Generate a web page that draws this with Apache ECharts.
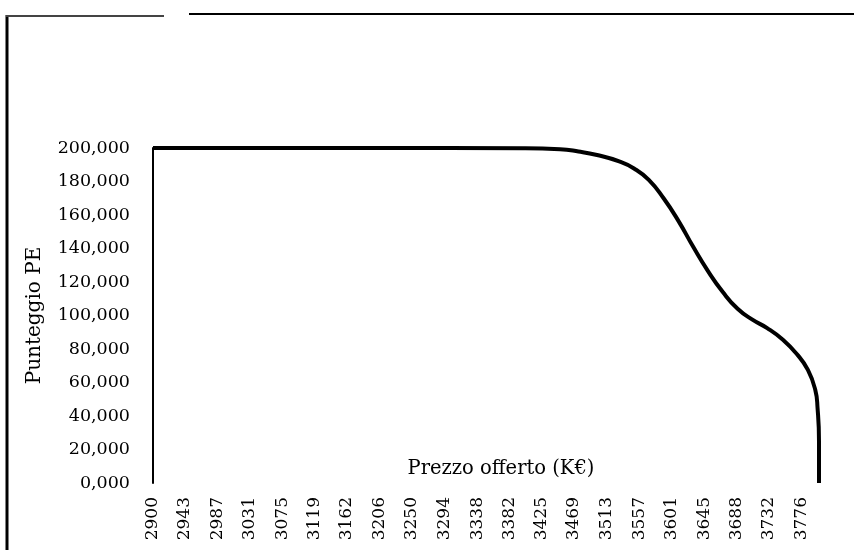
<!DOCTYPE html>
<html>
<head>
<meta charset="utf-8">
<script src="https://cdn.jsdelivr.net/npm/echarts@6/dist/echarts.min.js"></script>
<style>
    html, body { margin: 0; padding: 0; background: #fff; }
    #chart { width: 854px; height: 550px; }
</style>
</head>
<body>
<div id="chart"></div>
<script>

/* prezzo offerto (K€) - etichette asse x */
var tickLabels = ['2900','2943','2987','3031','3075','3119','3162','3206','3250','3294',
                  '3338','3382','3425','3469','3513','3557','3601','3645','3688','3732','3776'];

/* punti: prezzo, punteggio */
var prezzo =    [2900, 3200, 3400, 3450, 3475, 3500, 3530, 3550, 3570, 3590, 3610, 3630,
                 3650, 3670, 3690, 3710, 3730, 3750, 3770, 3785, 3795, 3798, 3800, 3800];
var punteggio = [200, 200, 199.9, 199.3, 197.9, 195.8, 192.0, 187.8, 181.0, 170, 156.5, 141,
                 126.5, 114, 104, 97.5, 92.5, 86, 77, 67.5, 55.5, 45, 25, 0];

var yMin = 0;
var yMax = 200;
var yStep = 20;


function loadScoreChart() {
    var chart = echarts.init(document.getElementById('chart'));
    var serif = 'DejaVu Serif';

    var data = [];
    for (var i = 0; i < prezzo.length; i++) {
        data.push([prezzo[i], punteggio[i]]);
    }

    var option = {
        animation: false,
        backgroundColor: '#fff',
        grid: {
            left: 153,
            right: 35,
            top: 148,
            bottom: 67,
            outerBoundsMode: 'none'
        },
        xAxis: {
            type: 'value',
            min: 2900,
            max: 3800,
            name: 'Prezzo offerto (K€)',
            nameLocation: 'middle',
            nameGap: -24,
            nameMoveOverlap: false,
            nameTextStyle: {
                fontFamily: serif,
                fontSize: 19.5,
                color: '#000',
                padding: [0, 0, 0, 30]
            },
            axisLine: { show: false },
            axisTick: { show: false },
            splitLine: { show: false },
            axisLabel: {
                customValues: tickLabels.map(Number),
                rotate: 90,
                margin: 14,
                fontFamily: serif,
                fontSize: 17,
                color: '#000',
                formatter: function (v) {
                    return String(v);
                }
            }
        },
        yAxis: {
            type: 'value',
            min: yMin,
            max: yMax,
            interval: yStep,
            name: 'Punteggio PE',
            nameLocation: 'middle',
            nameGap: 108,
            nameTextStyle: {
                fontFamily: serif,
                fontSize: 20,
                color: '#000'
            },
            axisLine: {
                show: true,
                lineStyle: { color: '#000', width: 2 }
            },
            axisTick: { show: false },
            splitLine: { show: false },
            axisLabel: {
                margin: 23,
                fontFamily: serif,
                fontSize: 17.5,
                color: '#000',
                formatter: function (v) {
                    return v.toFixed(3).replace('.', ',');
                }
            }
        },
        graphic: [
            { type: 'line', shape: { x1: 7, y1: 15, x2: 7, y2: 550 }, style: { stroke: '#000', lineWidth: 3 } },
            { type: 'line', shape: { x1: 6, y1: 16, x2: 164, y2: 16 }, style: { stroke: '#444', lineWidth: 2 } },
            { type: 'line', shape: { x1: 189, y1: 14, x2: 854, y2: 14 }, style: { stroke: '#000', lineWidth: 2 } }
        ],
        series: [
            {
                name: 'Punteggio PE',
                type: 'line',
                data: data,
                smooth: 0.5,
                showSymbol: false,
                lineStyle: { color: '#000', width: 4 }
            }
        ]
    };

    chart.setOption(option);
}

loadScoreChart();
</script>
</body>
</html>
